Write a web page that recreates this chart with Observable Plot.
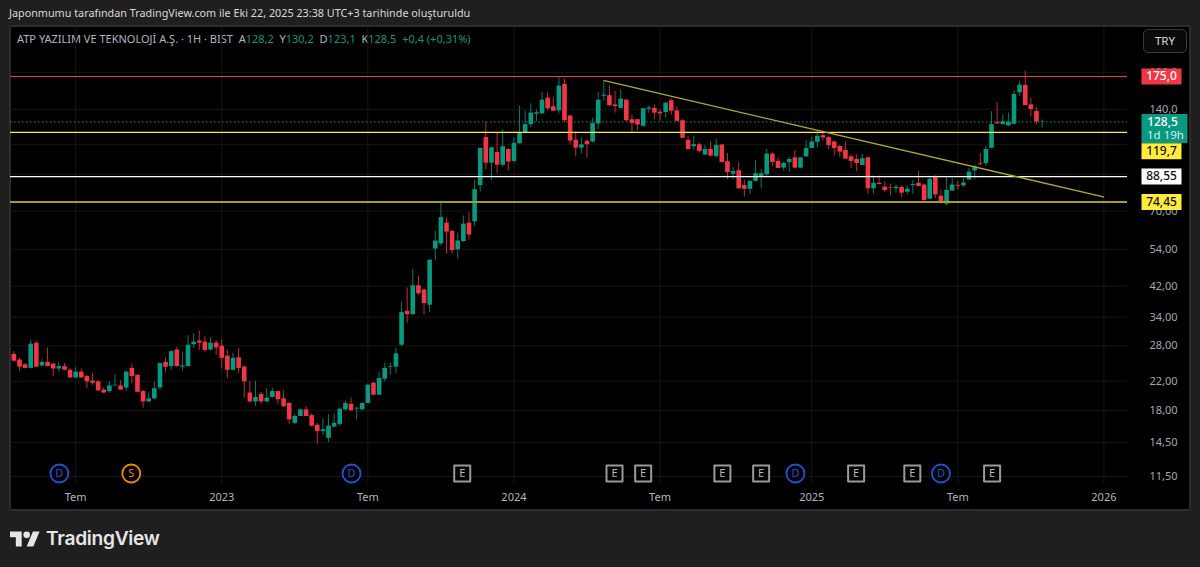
<!DOCTYPE html>
<html><head><meta charset="utf-8">
<script src="https://cdn.jsdelivr.net/npm/d3@7"></script>
<script src="https://cdn.jsdelivr.net/npm/@observablehq/plot@0.6"></script>
<style>
html,body{margin:0;padding:0;background:#1f1f1f;width:1200px;height:567px;overflow:hidden;font-family:"Noto Sans",sans-serif}
#title{height:25px;box-sizing:border-box;padding:5px 0 0 9px;font-size:10.8px;line-height:15px;color:#d9d9d9;white-space:pre}
#wrap{position:relative;width:1200px;height:487px}
#panel{position:absolute;left:9px;top:0;width:1178px;height:482px;background:#000;border:2px solid #2c2c2c;box-sizing:content-box}
#wrap svg{position:absolute;left:0;top:0;background:transparent}
#legend{position:absolute;left:17px;top:6px;font-size:11px;line-height:15px;color:#b2b5be;white-space:pre}
#legend b{font-weight:400;color:#089981}
#cur{position:absolute;left:1143px;top:4px;width:44px;height:24px;box-sizing:border-box;border:1.5px solid #3a3a3a;border-radius:5px;background:#0a0a0a;color:#d8d8d8;font-size:11.5px;line-height:21px;text-align:center}
#foot{height:55px;position:relative}
#foot svg{position:absolute;left:10px;top:18px}
#foot span{position:absolute;left:46px;top:12px;font:600 19.2px/28px Inter,sans-serif;letter-spacing:-.3px;color:#e6e6e6}
</style></head><body>
<div id="title">Japonmumu tarafından TradingView.com ile Eki 22, 2025 23:38 UTC+3 tarihinde oluşturuldu</div>
<div id="wrap"><div id="panel"></div><div id="legend">ATP YAZILIM VE TEKNOLOJİ A.Ş. · 1H · BIST  A<b>128,2</b>  Y<b>130,2</b>  D<b>123,1</b>  K<b>128,5</b>  <b>+0,4 (+0,31%)</b></div><div id="cur">TRY</div></div>
<div id="foot"><svg width="30" height="18" viewBox="0 4 36 18"><path fill="#e6e6e6" d="M14 22H7V11H0V4h14v18zM28 22h-8l7.5-18h8L28 22z"/><circle fill="#e6e6e6" cx="20" cy="8" r="4"/></svg><span>TradingView</span></div>
<script>
const opens=[26.4,25.4,24.6,24.0,28.5,24.4,25.0,24.7,23.9,24.3,
23.7,22.5,23.4,22.7,22.0,21.9,20.7,20.5,21.3,21.3,
21.0,24.0,22.9,20.5,19.1,19.5,21.0,25.0,24.3,27.2,
24.2,24.3,28.2,28.9,28.7,27.2,28.5,27.9,26.1,23.7,
25.8,24.2,20.3,19.1,20.1,19.1,19.7,20.5,19.5,18.9,
16.5,17.3,18.1,17.4,16.3,15.6,14.9,16.1,16.4,18.1,
18.8,18.2,18.1,18.9,21.7,20.0,22.3,24.2,24.2,28.1,
35.4,34.6,42.1,40.9,36.9,54.1,56.0,64.5,61.0,53.8,
56.9,64.5,65.1,83.3,115.5,97.0,104.3,95.7,106.5,98.2,
110.7,118.9,126.1,135.4,135.7,151,142.4,138.5,165.8,133.7,
113.4,107.5,112.5,112,126.7,153,153.6,144.2,140.8,149,
130.4,130.4,124.7,140,140.8,137.2,137,148.3,138.5,129.5,
113.4,108.5,110,102.5,106.5,101.5,109.8,98,90,92.2,
83.3,81.2,85.7,88.3,89.7,103.2,98.2,93.8,97.4,100.6,
93.8,101.3,107.2,111.8,117,115.5,112,108.7,105.8,101.3,
99.5,95.5,100.6,81.5,84.6,82.4,82.2,81.5,82.2,79.6,
83.3,84.6,83.6,75.9,88.7,77.5,73.4,80.2,83.4,83.2,
86.5,92,96.6,96.8,107.4,127.8,126.1,125,126.4,156.7,
164.7,144.3,137.8,128.2];
const closes=[25.2,24.2,24.0,28.3,24.2,25.0,24.3,23.9,24.3,23.7,
22.5,23.4,22.5,21.9,21.7,20.6,20.3,21.3,21.4,20.7,
23.4,22.7,20.4,19.1,19.5,20.9,24.8,24.2,26.9,24.3,
24.4,28.1,28.7,28.5,27.1,28.5,27.6,25.7,23.7,25.7,
24.0,21.9,19.1,19.7,19.1,19.6,20.5,19.4,18.5,16.9,
17.3,18.1,17.3,16.2,15.6,15.8,16.2,16.5,18.2,18.9,
18.0,18.3,18.9,21.4,20.0,22.4,24.0,24.3,26.5,35.1,
34.6,42.1,39.9,37.3,50.1,57.1,67.0,60.7,53.5,57.1,
64.1,59.5,81.0,107.2,97.0,107.7,95.7,108.5,97.8,111,
119.4,126.1,136.4,136.7,149,140.5,138.2,164,129.5,112.8,
107.5,109.9,110,127,149,154.2,143.5,142.6,150,129.5,
127.2,125.9,140.5,141.3,136.4,135.7,146,138.2,129,114.9,
106.5,110,105,106.5,101.8,109.4,97.4,91,91.6,81.5,
81.2,85.7,90.3,90.3,103.2,97.4,93.6,96.8,99.5,93.8,
100.5,107.2,112,116.5,115.2,109.4,107.2,104.6,99.7,98.2,
96.8,100,81.5,84.6,83.9,80.5,81.9,82.4,79.1,81.2,
83.9,82.8,75.2,86.9,78.2,74,80.6,83.6,82.9,84.8,
91.3,94.6,96,106.5,126.1,126.7,128.7,128.1,154.8,165,
143.6,139.8,128.4,128.5];
const highs=[26.9,25.7,24.8,29.1,28.8,25.5,27.6,24.9,25.0,24.8,
24.0,24.1,23.9,22.9,23.2,22.1,21.1,21.9,23.0,22.1,
23.6,24.7,23.0,20.7,20.3,21.9,24.9,25.8,27.1,27.7,
26.8,30.0,30.4,31.0,29.8,29.6,29.0,29.1,27.1,26.6,
27.5,24.4,22.0,22.0,20.4,20.9,21.0,20.6,20.6,19.0,
17.6,18.2,18.5,17.6,16.5,17.0,17.5,17.6,18.2,19.2,
19.6,18.4,19.0,21.6,21.8,23.4,24.9,24.9,27.5,37.6,
41.5,47.1,45.0,41.3,50.2,61.0,74.9,66.7,61.3,60.3,
67.8,69.3,86.3,107.7,128.4,108,118.8,121.9,107,115.2,
143.2,138.5,145.4,139.5,157.4,156.4,152,174.7,171.6,134.5,
120,115.2,113.6,131.8,156.8,170.5,164,158.3,159.7,149.3,
134.5,130.4,140.8,143.2,144.2,139.8,146.3,150.3,142.6,130.4,
116.5,116.5,111.3,109.4,112,114.2,110.2,103.5,94.1,97.4,
86.3,86,98.8,93,106.5,104,100.6,97.4,101,105.8,
100.6,113.4,115.7,119.2,120.5,116.2,113,109.4,112,102.7,
102.7,103,100.8,88.9,88.9,85.4,84.2,83.6,83.1,83.1,
86.3,91.6,84,88.9,88.9,80.6,87.9,87.3,85.7,87.3,
93.6,95.5,103.6,108.8,137.8,146.4,134.9,136.4,158.9,169.3,
181.6,151,141.6,130.2];
const lows=[25.1,23.6,23.95,23.9,24.2,24.2,24.3,22.7,23.4,23.6,
22.4,22.4,22.4,20.9,21.4,20.5,20.2,20.3,21.3,20.7,
20.5,21.6,20.3,18.3,19.0,19.4,20.6,23.4,23.7,24.2,
23.6,24.2,27.5,27.1,26.8,27.0,26.2,23.9,22.4,23.6,
23.2,19.6,19.1,18.5,18.8,19.1,19.6,18.8,18.4,16.4,
16.4,17.3,17.3,16.1,14.3,15.2,14.5,16.0,16.2,18.0,
17.9,16.9,18.0,18.9,19.9,20.0,21.9,22.9,23.2,27.9,
32.6,34.5,39.4,34.6,35.1,50.0,55.2,52.3,52.3,50.6,
56.6,57.5,63.0,79.6,92.6,86.3,90.3,94.4,92.2,97,
110.5,118.9,123.7,128.4,135.4,138.5,137.8,135.7,127.8,110,
101.3,103.4,100.2,111.3,121.9,147.5,142.6,136.4,140,129,
119.7,121,124.2,136.4,130.4,129,131.8,134.5,128.4,114.6,
106,105.8,103.8,102.2,101.5,100.6,97.2,86.9,86.9,81.3,
77,78.5,85.4,81.5,88.5,94.9,93.4,92,91,93.6,
93.6,101,107,107.7,113,106.5,101.8,101,99.5,93.6,
91.6,95.3,78.5,78.5,83.6,79.6,77.7,79.1,77,78.2,
78.5,82.6,74.9,75.7,76.3,73.4,72.6,80,80.8,82.3,
86.3,86.9,95.5,95,107.2,126.4,125.8,124.7,126.1,152.6,
143.3,133,126.1,123.1];

const xTicks=[11,37,63,89,115,142,168,194];
const xTickLabels=["Tem","2023","Tem","2024","Tem","2025","Tem","2026"];
const yGrid=[180,140,110,90,70,54,42,34,28,22,18,14.5,11.5];
const yTicks=[180,140,70,54,42,34,28,22,18,14.5,11.5];
const yTickLabels=["180,0","140,0","70,00","54,00","42,00","34,00","28,00","22,00","18,00","14,50","11,50"];
const levels=[175,119.7,88.55,74.45];
const levelLabels=["175,0","119,7","88,55","74,45"];
const levelLines=["#f23645","#ffeb3b","#ffffff","#a89b2a"];
const levelBoxes=["#f23645","#ffeb3b","#ffffff","#ffeb3b"];
const levelInk=["#ffffff","#131313","#131313","#131313"];
const levelShift=[0,19,0,0];
const levelWidth=[1.2,1.2,1.2,2];
const trendX=[105.1,193.9];
const trendY=[170.1,77.1];
const lastClose=128.5;
const eventX=[8.1,20.9,60.1,79.8,106.9,112.0,126.1,133,139.1,149.9,159.9,165,174.1];
const eventKind=["D","S","D","E","E","E","E","E","D","E","E","D","E"];

const candles=opens.map((o,i)=>({i,o,c:closes[i],h:highs[i],l:lows[i]}));
const up=candles.filter(d=>d.c>=d.o), down=candles.filter(d=>d.c<d.o);
const levelRows=levels.map((v,i)=>({v,label:levelLabels[i],line:levelLines[i],box:levelBoxes[i],ink:levelInk[i],shift:levelShift[i],w:levelWidth[i]}));
const events=eventX.map((x,i)=>({x,k:eventKind[i]}));
const UP="#089981",DOWN="#f23645",LAB="#b2b5be",GRID="#161616";
const badge={draw(c){c.rect(14,-8,40,16)}};
const badgeShifted={draw(c){c.rect(14,11,40,16)}};
const lastBadge={draw(c){c.rect(14,-8,46,29)}};
const circleEv={draw(c){c.moveTo(9,0);c.arc(0,0,9,0,2*Math.PI)}};
const boxEv={draw(c){c.rect(-8,-8,16,16)}};

const candleMarks=(rows,col)=>[
  Plot.ruleX(rows,{x:"i",y1:"l",y2:"h",stroke:col,strokeWidth:1,strokeOpacity:.8}),
  Plot.ruleX(rows,{x:"i",y1:"o",y2:"c",stroke:col,strokeWidth:4.6})
];
const evText=(k,col)=>Plot.text(events.filter(d=>d.k===k),{x:"x",text:"k",frameAnchor:"bottom",lineAnchor:"middle",dy:-11,fill:col,fontSize:11});
const chart=Plot.plot({
  width:1200,height:487,marginTop:2,marginBottom:28,marginLeft:10,marginRight:73,
  style:{background:"transparent",fontFamily:'"Noto Sans",sans-serif',fontSize:"11px"},
  x:{type:"linear",domain:[-0.6,198.2],label:null},
  y:{type:"log",domain:[11.5,175],range:[451,51],label:null},
  marks:[
    Plot.ruleY(yGrid,{stroke:GRID,strokeWidth:1}),
    Plot.ruleX(xTicks,{stroke:GRID,strokeWidth:1}),
    Plot.axisX({ticks:xTicks,tickFormat:d=>xTickLabels[xTicks.indexOf(d)],tickSize:0,tickPadding:9,fill:LAB,label:null,fontSize:11}),
    Plot.axisY({anchor:"right",ticks:yTicks,tickFormat:d=>yTickLabels[yTicks.indexOf(d)],tickSize:0,tickPadding:22,fill:"#a4a7af",label:null,fontSize:11}),
    Plot.ruleY([lastClose],{stroke:UP,strokeWidth:1,strokeDasharray:"1.5 2.5"}),
    ...candleMarks(up,UP),
    ...candleMarks(down,DOWN),
    Plot.ruleY(levelRows,{y:"v",stroke:"line",strokeWidth:"w"}),
    Plot.line(trendX.map((x,i)=>({x,y:trendY[i]})),{x:"x",y:"y",stroke:"#b5a82d",strokeWidth:1.4,curve:"linear"}),
    Plot.dot(levelRows.filter(d=>d.shift===0),{y:"v",frameAnchor:"right",symbol:badge,r:8,fill:"box"}),
    Plot.dot(levelRows.filter(d=>d.shift>0),{y:"v",frameAnchor:"right",symbol:badgeShifted,r:8,fill:"box"}),
    Plot.text(levelRows.filter(d=>d.shift===0),{y:"v",text:"label",frameAnchor:"right",textAnchor:"middle",dx:34,fill:"ink",fontSize:12,fontWeight:500}),
    Plot.text(levelRows.filter(d=>d.shift>0),{y:"v",text:"label",frameAnchor:"right",textAnchor:"middle",dx:34,dy:19,fill:"ink",fontSize:12,fontWeight:500}),
    Plot.dot([lastClose],{y:d=>d,frameAnchor:"right",symbol:lastBadge,r:8,fill:UP}),
    Plot.text([lastClose],{y:d=>d,text:()=>"128,5",frameAnchor:"right",textAnchor:"middle",dx:35,fill:"#fff",fontSize:12,fontWeight:500}),
    Plot.text([lastClose],{y:d=>d,text:()=>"1d 19h",frameAnchor:"right",textAnchor:"middle",dx:38,dy:13.5,fill:"#d6efe9",fontSize:11.5}),
    Plot.dot(events.filter(d=>d.k==="D"),{x:"x",frameAnchor:"bottom",dy:-11,symbol:circleEv,r:8,stroke:"#1c55d6",strokeWidth:1.8,fill:"#000"}),
    Plot.dot(events.filter(d=>d.k==="S"),{x:"x",frameAnchor:"bottom",dy:-11,symbol:circleEv,r:8,stroke:"#f08c00",strokeWidth:1.8,fill:"#000"}),
    Plot.dot(events.filter(d=>d.k==="E"),{x:"x",frameAnchor:"bottom",dy:-11,symbol:boxEv,r:8,stroke:"#9a9a9a",strokeWidth:2,fill:"#000",strokeLinejoin:"round"}),
    evText("D","#1c55d6"),
    evText("S","#f08c00"),
    evText("E","#b8b8b8")
  ]
});
document.getElementById("wrap").appendChild(chart);
</script>
</body></html>
